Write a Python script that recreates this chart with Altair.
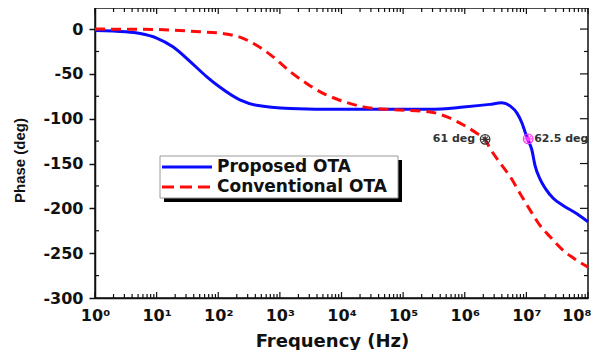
import altair as alt
import pandas as pd

# ---- data ----
freq_proposed = [1, 3.16, 5.4, 10, 18.6, 34.7, 64.6, 107, 224, 417,
                 1479, 9550, 275000, 955000, 2.57e6,
                 3.98e6, 5.5e6, 7.08e6, 8.51e6, 9.55e6,
                 1.07e7, 1.23e7, 1.38e7, 1.66e7, 2.04e7,
                 2.75e7, 3.98e7, 6.6e7, 1e8]
phase_proposed = [-1.5, -3, -5, -10, -20, -36, -53, -65, -79, -85,
                  -88.5, -89.5, -89.5, -87, -84,
                  -82.3, -86, -94, -105, -115,
                  -124, -135, -152, -167, -178,
                  -189, -197, -206, -215]

freq_conv = [1, 10, 50, 120, 224, 417, 776, 1479, 2754, 5129,
             8318, 22909, 70795, 275000, 513000,
             955000, 1.585e6, 2.14e6, 2.57e6, 3.8e6,
             5.5e6, 7.94e6, 1.15e7, 1.66e7, 2.45e7,
             3.98e7, 6.6e7, 1e8]
phase_conv = [0, -0.5, -3, -5, -9, -18, -31, -47.7, -61, -72,
              -78, -86.8, -90, -92.4, -98,
              -107, -116.5, -123, -133, -150,
              -165, -183.6, -202, -219, -232,
              -247, -258, -265.6]

series_names = ["Proposed OTA", "Conventional OTA"]
series_colors = ["#0a0aff", "#ff0a0a"]

marker_freq = [2.14e6, 1.07e7]
marker_phase = [-123, -122.5]
marker_text = ["61 deg", "62.5 deg"]
marker_colors = ["#333333", "#ff33ff"]

x_major = [1, 10, 100, 1e3, 1e4, 1e5, 1e6, 1e7, 1e8]
x_minor = [m * d for d in x_major[:-1] for m in range(2, 10)]
y_major = [0, -50, -100, -150, -200, -250, -300]
y_minor = [-25, -75, -125, -175, -225, -275]

X_DOMAIN = [1, 1e8]
Y_DOMAIN = [-300, 23.5]
FONT = "DejaVu Sans"
INK = "#111111"

df_prop = pd.DataFrame({"f": freq_proposed, "phase": phase_proposed})
df_conv = pd.DataFrame({"f": freq_conv, "phase": phase_conv})
df_mark = pd.DataFrame({"f": marker_freq, "phase": marker_phase, "name": marker_text})

xscale = alt.Scale(type="log", domain=X_DOMAIN, nice=False)
yscale = alt.Scale(domain=Y_DOMAIN, nice=False, zero=False)

sup = "['\u2070','\u00b9','\u00b2','\u00b3','\u2074','\u2075','\u2076','\u2077','\u2078']"
last_label = "datum.value > 5e7"

x_axis = alt.Axis(
    values=x_major,
    labelExpr="'10' + " + sup + "[round(log(datum.value)/LN10)]",
    title="Frequency (Hz)",
    grid=False, ticks=False,
    domainColor=INK, domainWidth=1.5,
    labelFont=FONT, labelFontWeight="bold", labelFontSize=16, labelColor=INK,
    labelPadding=9, labelFlush=False, labelOverlap=False,
    labelAlign={"condition": {"test": last_label, "value": "right"}, "value": "center"},
    labelOffset={"condition": {"test": last_label, "value": 3}, "value": 0},
    titleFont=FONT, titleFontWeight="bold", titleFontSize=18, titleColor=INK,
    titlePadding=9, titleX=237, titleAlign="center", titleAnchor="start",
)
y_axis = alt.Axis(
    values=y_major,
    labelExpr="datum.value + ''",
    title="Phase (deg)",
    grid=False, tickSize=6, tickWidth=1.5, tickColor=INK,
    domainColor=INK, domainWidth=1.5,
    labelFont=FONT, labelFontWeight="bold", labelFontSize=16, labelColor=INK,
    labelPadding=6, labelOverlap=False,
    titleFont="Liberation Sans", titleFontWeight="bold", titleFontSize=15, titleColor=INK,
    titleX=-76, titleY=152, titleAngle=-90, titleBaseline="middle", titleAlign="center",
)

# identical axis objects everywhere so that the shared axes merge cleanly
X = alt.X("f:Q", scale=xscale, axis=x_axis)
Y = alt.Y("phase:Q", scale=yscale, axis=y_axis)

line_prop = alt.Chart(df_prop).mark_line(
    color=series_colors[0], strokeWidth=3, interpolate="monotone"
).encode(x=X, y=Y)

line_conv = alt.Chart(df_conv).mark_line(
    color=series_colors[1], strokeWidth=3, strokeDash=[10, 6], interpolate="monotone"
).encode(x=X, y=Y)

# ---- inward frame ticks ----
def xticks(vals, ydatum, size, off):
    d = pd.DataFrame({"f": vals})
    return alt.Chart(d).mark_tick(orient="vertical", color=INK, opacity=1,
                                  thickness=1.2, size=size, yOffset=off).encode(
        x=X, y=alt.YDatum(ydatum, scale=yscale, axis=y_axis))

def yticks(vals, xdatum, size, off):
    d = pd.DataFrame({"phase": vals})
    return alt.Chart(d).mark_tick(orient="horizontal", color=INK, opacity=1,
                                  thickness=1.2, size=size, xOffset=off).encode(
        y=Y, x=alt.XDatum(xdatum, scale=xscale, axis=x_axis))

tick_layers = [
    xticks(x_minor, Y_DOMAIN[0], 4, -2),
    xticks(x_major, Y_DOMAIN[0], 6, -3),
    xticks(x_minor, Y_DOMAIN[1], 4, 2),
    xticks(x_major, Y_DOMAIN[1], 6, 3),
    yticks(y_minor, X_DOMAIN[0], 4, 2),
    yticks(y_minor, X_DOMAIN[1], 4, -2),
    yticks(y_major, X_DOMAIN[1], 8, -4),
]

# ---- annotation markers ----
mcolor = alt.Color("name:N", scale=alt.Scale(domain=marker_text, range=marker_colors), legend=None)
mark_circle = alt.Chart(df_mark).mark_point(shape="circle", filled=False, size=90,
                                            strokeWidth=1.3, opacity=1).encode(x=X, y=Y, color=mcolor)
mark_star = alt.Chart(df_mark).mark_point(
    shape="M-1,0L1,0M0,-1L0,1M-0.7,-0.7L0.7,0.7M-0.7,0.7L0.7,-0.7",
    filled=False, size=60, strokeWidth=1.1, opacity=1).encode(x=X, y=Y, color=mcolor)

txt_left = alt.Chart(df_mark).transform_filter(alt.datum.name == marker_text[0]).mark_text(
    align="right", baseline="middle", dx=-10, font=FONT, fontWeight="bold", fontSize=11, color="#333333"
).encode(x=X, y=Y, text="name:N")
txt_right = alt.Chart(df_mark).transform_filter(alt.datum.name == marker_text[1]).mark_text(
    align="left", baseline="middle", dx=6, font=FONT, fontWeight="bold", fontSize=11, color="#333333"
).encode(x=X, y=Y, text="name:N")

# ---- legend box (drawn) ----
one = alt.Data(values=[{"k": 1}])
shadow = alt.Chart(one).mark_rect(color="#000000").encode(
    x=alt.value(69), x2=alt.value(307), y=alt.value(152), y2=alt.value(194))
box = alt.Chart(one).mark_rect(fill="#ffffff", stroke="#9a9a9a", strokeWidth=1).encode(
    x=alt.value(65), x2=alt.value(303), y=alt.value(148), y2=alt.value(190))
leg_l1 = alt.Chart(one).mark_rule(color=series_colors[0], strokeWidth=3).encode(
    x=alt.value(67), x2=alt.value(117), y=alt.value(159))
leg_l2 = alt.Chart(one).mark_rule(color=series_colors[1], strokeWidth=3, strokeDash=[12, 6]).encode(
    x=alt.value(67), x2=alt.value(117), y=alt.value(179))
leg_t1 = alt.Chart(one).mark_text(align="left", baseline="middle", font=FONT, fontWeight="bold",
                                  fontSize=17, color=INK).encode(
    x=alt.value(122), y=alt.value(159), text=alt.value(series_names[0]))
leg_t2 = alt.Chart(one).mark_text(align="left", baseline="middle", font=FONT, fontWeight="bold",
                                  fontSize=17, color=INK).encode(
    x=alt.value(122), y=alt.value(179), text=alt.value(series_names[1]))

chart = alt.layer(
    line_prop, line_conv, *tick_layers, mark_circle, mark_star, txt_left, txt_right,
    shadow, box, leg_l1, leg_l2, leg_t1, leg_t2,
).properties(
    width=493, height=290,
    autosize=alt.AutoSizeParams(type="none"),
    padding={"left": 87, "top": 0, "right": 4, "bottom": 52},
).configure_view(stroke=INK, strokeWidth=1.5)

chart.save("out.html", embed_options={"renderer": "svg", "actions": False})
